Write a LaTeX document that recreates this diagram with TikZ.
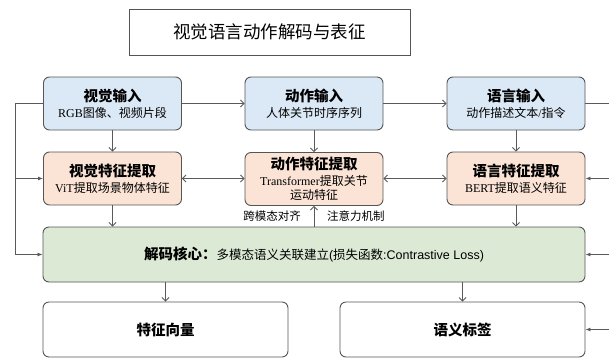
\documentclass[tikz,border=0pt]{standalone}
\usepackage{fontspec}
\setmainfont{Liberation Serif}
\newfontfamily\cjk{Noto Sans CJK SC}
\newfontfamily\lsans{Liberation Sans}
\usetikzlibrary{arrows.meta}
\definecolor{bluef}{HTML}{DBE8F5}
\definecolor{orangef}{HTML}{FBE4D6}
\definecolor{greenf}{HTML}{DCEAD5}
\definecolor{edgec}{HTML}{555555}
\definecolor{linec}{HTML}{5A5A5A}
\newcommand\zh[1]{{\cjk #1}}
\newcommand\hdtext[1]{{\cjk\bfseries\fontsize{14.5}{17}\selectfont #1}}
\tikzset{
  boxbase/.style={draw=edgec, line width=0.9pt, rounded corners=6pt, align=center, inner sep=0pt, font=\fontsize{12}{15}\selectfont},
  inbox/.style={boxbase, fill=bluef, minimum width=138pt, minimum height=53pt},
  featbox/.style={boxbase, fill=orangef, minimum width=138pt, minimum height=53pt},
  corebox/.style={boxbase, fill=greenf, minimum width=542pt, minimum height=55pt},
  outbox/.style={boxbase, fill=white, minimum width=245pt, minimum height=55pt},
  titlebox/.style={draw=edgec, line width=0.9pt, minimum width=281pt, minimum height=46pt, inner sep=0pt},
  conn/.style={draw=linec, line width=0.8pt, -{Straight Barb[length=3.5pt,width=7pt]}},
  dconn/.style={draw=linec, line width=0.8pt, {Straight Barb[length=3.5pt,width=7pt]}-{Straight Barb[length=3.5pt,width=7pt]}},
  sideconn/.style={draw=linec, line width=0.8pt, -{Latex[length=5pt,width=4pt]}},
  sideline/.style={draw=linec, line width=0.8pt},
  lab/.style={font=\cjk\fontsize{11.5}{13}\selectfont, inner sep=0pt}
}
\begin{document}
\begin{tikzpicture}[x=1pt,y=-1pt]
\useasboundingbox (0,0) rectangle (609,359);
% title
\node[titlebox] (title) at (269.5,32) {\cjk\fontsize{17.5}{20}\selectfont 视觉语言动作解码与表征};
% inputs
\node[inbox] (visin) at (112.5,103.5) {\hdtext{视觉输入}\\[1pt]RGB\zh{图像、视频片段}};
\node[inbox] (actin) at (314,103.5) {\hdtext{动作输入}\\[1pt]\zh{人体关节时序序列}};
\node[inbox] (lanin) at (516,103.5) {\hdtext{语言输入}\\[1pt]\zh{动作描述文本}/\zh{指令}};
% features
\node[featbox] (visf) at (112.5,178.5) {\hdtext{视觉特征提取}\\[1pt]ViT\zh{提取场景物体特征}};
\node[featbox, font=\fontsize{12}{14}\selectfont] (actf) at (314,179) {\hdtext{动作特征提取}\\[2pt]Transformer\zh{提取关节}\\\zh{运动特征}};
\node[featbox] (lanf) at (516,178.5) {\hdtext{语言特征提取}\\[1pt]BERT\zh{提取语义特征}};
% core
\node[corebox] (core) at (314,254.5) {{\cjk\bfseries\fontsize{14.5}{17}\selectfont 解码核心：}{\fontsize{12.5}{15}\selectfont\zh{多模态语义关联建立}\lsans(\zh{损失函数}:Contrastive Loss)}};
% outputs
\node[outbox] (fv) at (165.5,329.5) {\hdtext{特征向量}};
\node[outbox] (sl) at (462.5,329.5) {\hdtext{语义标签}};
% side coordinates
\coordinate (lt) at (15,103.5);
\coordinate (lm) at (15,178.5);
\coordinate (lb) at (15,254.5);
\coordinate (rt) at (609,103.5);
\coordinate (rf) at (609,178.5);
\coordinate (rc) at (609,254.5);
\coordinate (rs) at (609,329.5);
% connectors
\draw[conn] (visin) -- (actin);
\draw[conn] (actin) -- (lanin);
\draw[conn] (visin) -- (visf);
\draw[conn] (actin) -- (actf);
\draw[conn] (lanin) -- (lanf);
\draw[dconn] (visf.east) -- (visf.east -| actf.west);
\draw[dconn] (actf.east |- lanf.west) -- (lanf.west);
\draw[conn] (visf.south) -- (visf.south |- core.north);
\draw[conn] (lanf.south) -- (lanf.south |- core.north);
\draw[conn] (actf.south |- core.north) -- (actf.south);
\draw[conn] (core.south -| fv.north) -- (fv.north);
\draw[conn] (core.south -| sl.north) -- (sl.north);
% side lines
\draw[sideline] (visin.west) -- (lt) -- (lb);
\draw[sideconn] (lb) -- (core.west);
\draw[sideconn] (lm) -- (visf.west);
\draw[sideline] (lanin.east) -- (rt);
\draw[sideconn] (rf) -- (lanf.east);
\draw[sideconn] (rc) -- (core.east);
\draw[sideconn] (rs) -- (sl.east);
% labels
\node[lab, anchor=east] (l1) at (301,216) {跨模态对齐};
\node[lab, anchor=west] (l2) at (327,216) {注意力机制};
\end{tikzpicture}
\end{document}
